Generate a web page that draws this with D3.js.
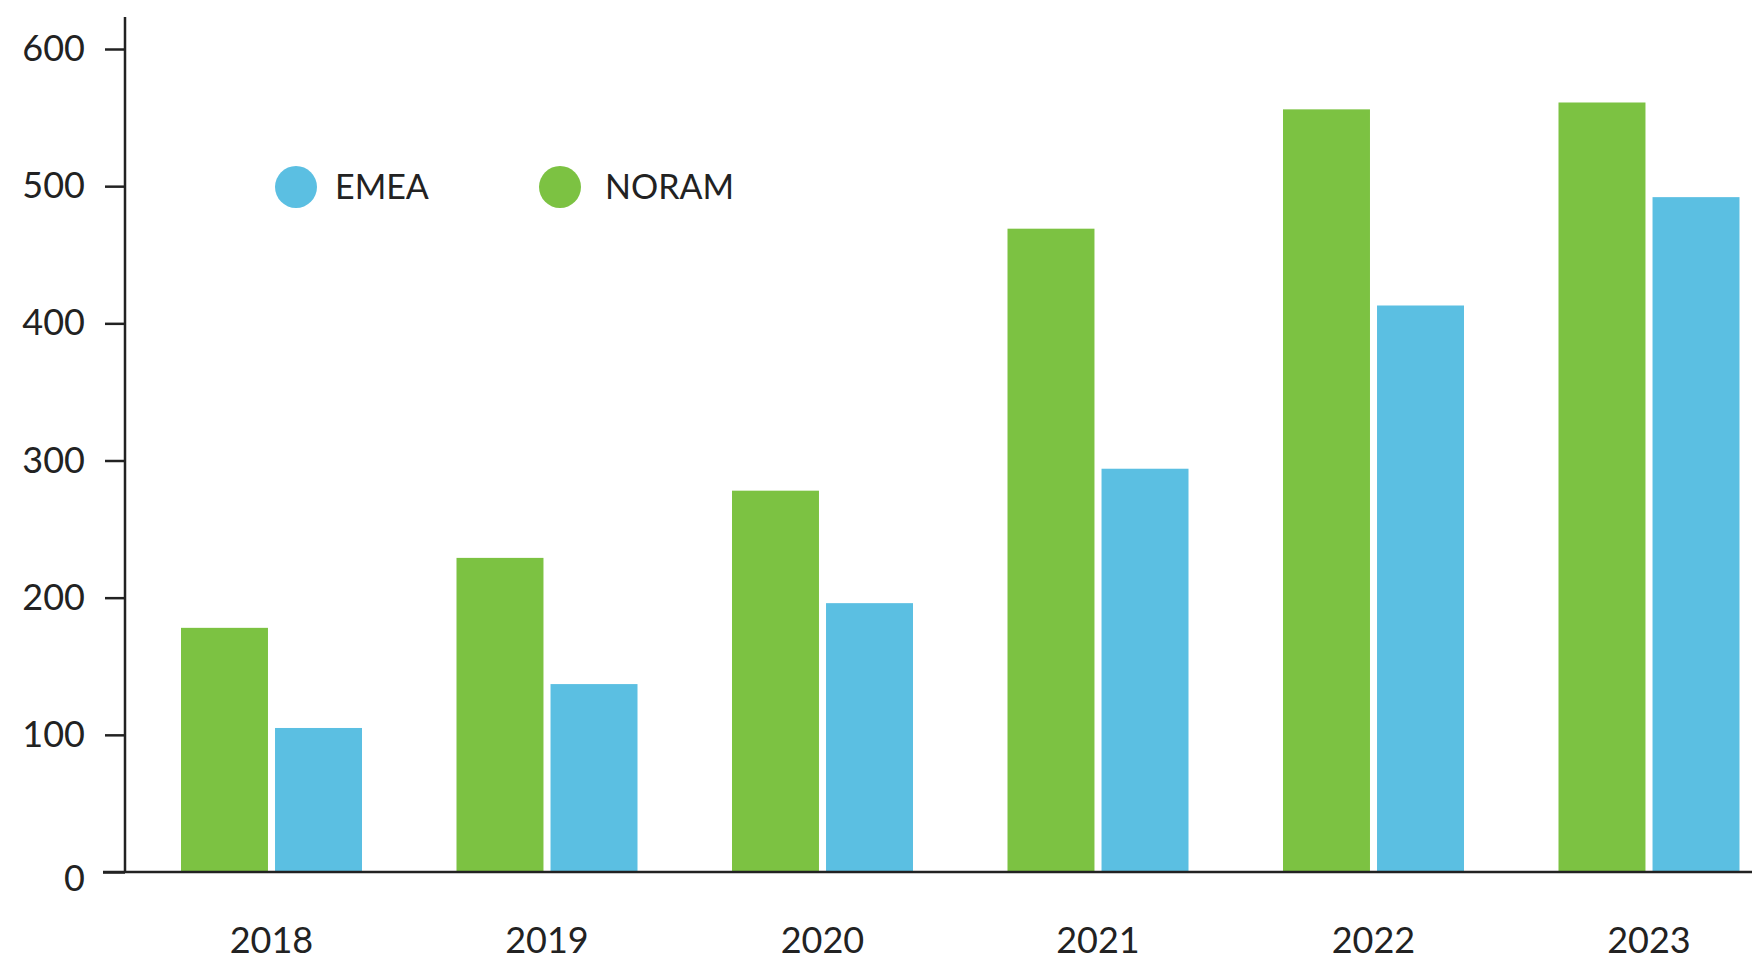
<!DOCTYPE html>
<html>
<head>
<meta charset="utf-8">
<script src="https://cdn.jsdelivr.net/npm/d3@7"></script>
<style>
  html, body { margin: 0; padding: 0; background: #fff; }
  svg { display: block; }
  text { font-family: Lato, "Noto Sans", sans-serif; fill: #222; }
</style>
</head>
<body>
<svg id="chart" width="1752" height="960"></svg>
<script>
const years = ["2018", "2019", "2020", "2021", "2022", "2023"];
const seriesNames = ["NORAM", "EMEA"];
const noram = [178, 229, 278, 469, 556, 561];
const emea = [105, 137, 196, 294, 413, 492];
const yTicks = [0, 100, 200, 300, 400, 500, 600];
const legendOrder = ["EMEA", "NORAM"];
const colors = { NORAM: "#7cc242", EMEA: "#5bbfe2" };

const rows = years.map((y, i) => ({ year: y, NORAM: noram[i], EMEA: emea[i] }));

const svg = d3.select("#chart");
const axisX = 125, baseY = 872;

const y = d3.scaleLinear().domain([0, 600]).range([baseY, 49]);
const x = d3.scaleBand().domain(years).range([133.75, 1786.75])
  .paddingInner(0.343).paddingOuter(0.1715);
const xs = d3.scaleBand().domain(seriesNames).range([0, x.bandwidth()])
  .paddingInner(0.075).paddingOuter(0);

// bars
const g = svg.append("g");
g.selectAll("g.grp").data(rows).join("g")
  .attr("transform", d => `translate(${x(d.year)},0)`)
  .selectAll("rect").data(d => seriesNames.map(k => ({ key: k, value: d[k] })))
  .join("rect")
  .attr("x", d => xs(d.key))
  .attr("width", xs.bandwidth())
  .attr("y", d => y(d.value))
  .attr("height", d => baseY - y(d.value))
  .attr("fill", d => colors[d.key]);

// y axis
const yAxis = d3.axisLeft(y).tickValues(yTicks).tickSize(20).tickPadding(20);
const ya = svg.append("g").attr("transform", `translate(${axisX},0)`).call(yAxis);
ya.select(".domain").remove();
ya.selectAll(".tick line").attr("stroke", "#222").attr("stroke-width", 2.5);
ya.selectAll(".tick text").attr("font-size", 36).attr("font-family", "Lato, sans-serif")
  .attr("fill", "#222").attr("dy", d => d === 0 ? "0.5em" : "0.32em");
ya.selectAll(".tick").filter(d => d === 0).select("line").attr("x2", -22);

svg.append("line").attr("x1", axisX).attr("x2", axisX).attr("y1", 17).attr("y2", baseY)
  .attr("stroke", "#222").attr("stroke-width", 2.5);

// x axis
const xAxis = d3.axisBottom(x).tickSize(0).tickPadding(74);
const xa = svg.append("g").attr("transform", `translate(0,${baseY})`).call(xAxis);
xa.select(".domain").remove();
xa.selectAll(".tick text").attr("font-size", 36).attr("font-family", "Lato, sans-serif")
  .attr("fill", "#222").attr("dy", "0.2em");
svg.append("line").attr("x1", 103).attr("x2", 1752).attr("y1", baseY).attr("y2", baseY)
  .attr("stroke", "#222").attr("stroke-width", 2.5);

// legend
const legendX = [296, 560];
const legendTextX = [39, 45];
const lg = svg.append("g").selectAll("g").data(legendOrder).join("g")
  .attr("transform", (d, i) => `translate(${legendX[i]},187)`);
lg.append("circle").attr("r", 21).attr("fill", d => colors[d]);
lg.append("text").attr("x", (d, i) => legendTextX[i]).attr("dy", "0.36em").attr("font-size", 34)
  .text(d => d);
</script>
</body>
</html>
